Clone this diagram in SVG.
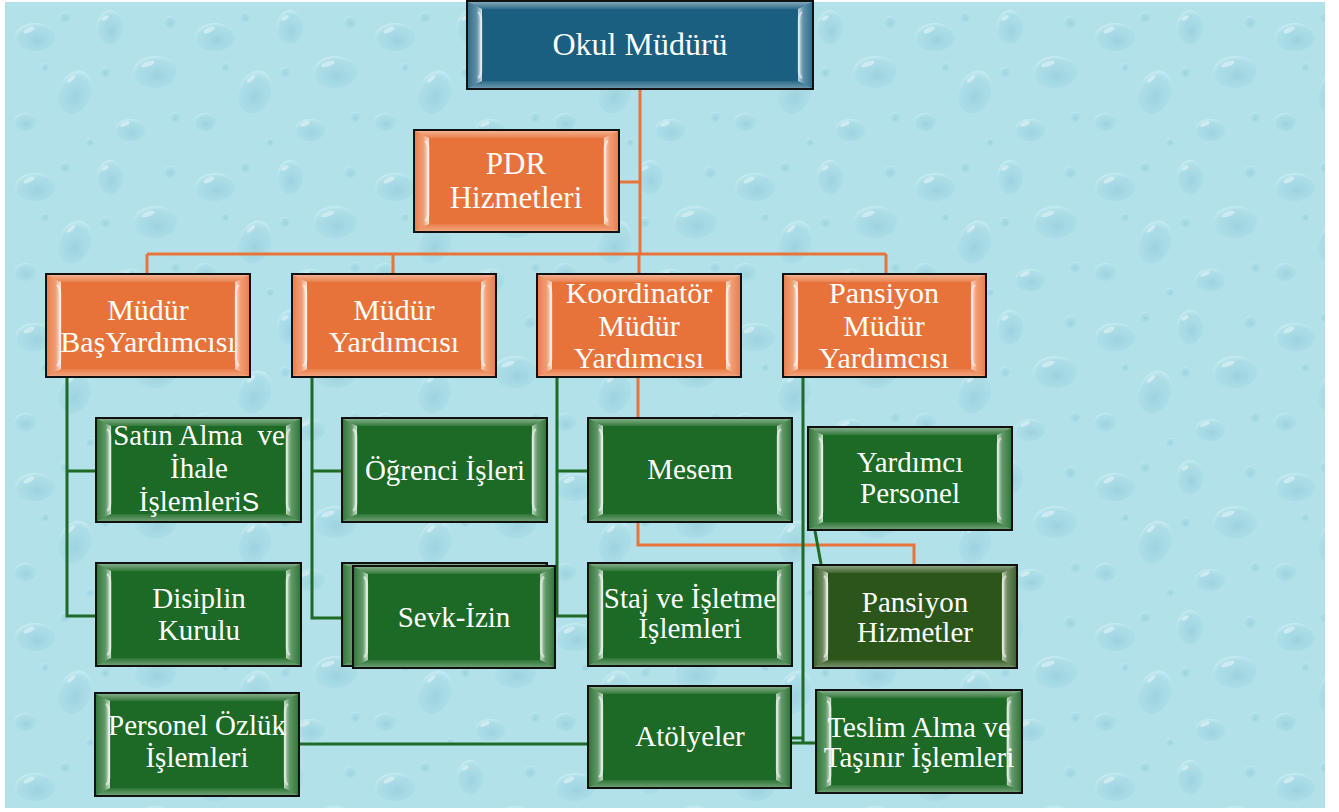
<svg xmlns="http://www.w3.org/2000/svg" xmlns:xlink="http://www.w3.org/1999/xlink" width="1339" height="812" viewBox="0 0 1339 812">
<style>
  .t { font-family: "Liberation Serif", "Times New Roman", serif; fill: #ffffff; text-anchor: middle; }
  .o { font-size: 30px; }
  .g { font-size: 29px; }
  .orange { color: #e8733a; }
  .green { color: #1c6a25; }
  .dkgreen { color: #2b5519; }
  .blue { color: #1a5f80; }
  .co { fill: none; stroke: #e8743b; stroke-width: 3; }
  .cg { fill: none; stroke: #1e6b25; stroke-width: 3; }
</style>
<defs>
  <radialGradient id="drop" cx="0.55" cy="0.62" r="0.6">
    <stop offset="0" stop-color="#7dbccc" stop-opacity="0.4"/>
    <stop offset="0.8" stop-color="#9ad3de" stop-opacity="0.22"/>
    <stop offset="1" stop-color="#e6fbff" stop-opacity="0.35"/>
  </radialGradient>
  <pattern id="drops" x="5" y="2" width="180" height="150" patternUnits="userSpaceOnUse">
    <ellipse cx="30" cy="35" rx="20" ry="14" fill="url(#drop)"/>
    <ellipse cx="24" cy="28" rx="6" ry="2.5" fill="#ffffff" opacity="0.4" transform="rotate(-25 24 28)"/>
    <ellipse cx="105" cy="25" rx="13" ry="17" fill="url(#drop)"/>
    <ellipse cx="100" cy="16" rx="4" ry="2" fill="#ffffff" opacity="0.4" transform="rotate(-30 100 16)"/>
    <ellipse cx="150" cy="70" rx="22" ry="16" fill="url(#drop)"/>
    <ellipse cx="143" cy="62" rx="7" ry="2.5" fill="#ffffff" opacity="0.4" transform="rotate(-20 143 62)"/>
    <ellipse cx="70" cy="90" rx="16" ry="22" fill="url(#drop)" transform="rotate(20 70 90)"/>
    <ellipse cx="66" cy="77" rx="5" ry="2" fill="#ffffff" opacity="0.4" transform="rotate(-40 66 77)"/>
    <ellipse cx="20" cy="120" rx="11" ry="9" fill="url(#drop)"/>
    <ellipse cx="125" cy="128" rx="15" ry="11" fill="url(#drop)"/>
    <ellipse cx="120" cy="122" rx="5" ry="2" fill="#ffffff" opacity="0.4" transform="rotate(-25 120 122)"/>
    <circle cx="60" cy="15" r="5" fill="url(#drop)"/>
    <circle cx="165" cy="20" r="6" fill="url(#drop)"/>
    <circle cx="100" cy="70" r="5" fill="url(#drop)"/>
    <circle cx="40" cy="65" r="4" fill="url(#drop)"/>
    <circle cx="170" cy="115" r="5" fill="url(#drop)"/>
    <circle cx="85" cy="140" r="4" fill="url(#drop)"/>
  </pattern>
  <linearGradient id="lb" x1="0" y1="0" x2="1" y2="0">
    <stop offset="0" stop-color="#ffffff" stop-opacity="0.1"/>
    <stop offset="0.6" stop-color="#ffffff" stop-opacity="0.3"/>
    <stop offset="1" stop-color="#ffffff" stop-opacity="0.8"/>
  </linearGradient>
  <linearGradient id="rb" x1="1" y1="0" x2="0" y2="0">
    <stop offset="0" stop-color="#ffffff" stop-opacity="0.1"/>
    <stop offset="0.6" stop-color="#ffffff" stop-opacity="0.3"/>
    <stop offset="1" stop-color="#ffffff" stop-opacity="0.75"/>
  </linearGradient>
  <linearGradient id="tb" x1="0" y1="0" x2="0" y2="1">
    <stop offset="0" stop-color="#ffffff" stop-opacity="0.45"/>
    <stop offset="1" stop-color="#ffffff" stop-opacity="0.1"/>
  </linearGradient>
  <linearGradient id="bb" x1="0" y1="1" x2="0" y2="0">
    <stop offset="0" stop-color="#ffffff" stop-opacity="0.35"/>
    <stop offset="1" stop-color="#ffffff" stop-opacity="0.08"/>
  </linearGradient>
  <symbol id="box" viewBox="0 0 206 105" preserveAspectRatio="none">
    <rect x="1" y="1" width="204" height="103" fill="currentColor" stroke="#111111" stroke-width="2"/>
    <polygon points="2,2 204,2 190,9 16,9" fill="url(#tb)"/>
    <polygon points="2,103 204,103 190,96 16,96" fill="url(#bb)"/>
    <polygon points="2,2 16,9 16,96 2,103" fill="url(#lb)"/>
    <polygon points="204,2 190,9 190,96 204,103" fill="url(#rb)"/>
    <path d="M12 12 Q15 14 15 20 V85 Q15 91 12 93" fill="none" stroke="#ffffff" stroke-opacity="0.55" stroke-width="2.5"/>
    <path d="M194 12 Q191 14 191 20 V85 Q191 91 194 93" fill="none" stroke="#ffffff" stroke-opacity="0.5" stroke-width="2.5"/>
  </symbol>
</defs>

<rect x="0" y="0" width="1339" height="812" fill="#ffffff"/>
<rect x="5" y="2" width="1320" height="806" fill="#b2e1ea"/>
<rect x="5" y="2" width="1320" height="806" fill="url(#drops)"/>

<g id="connectors">
  <path class="co" d="M640 89 V254 M620 182 H640 M147 254 H886 M147 254 V273 M393 254 V273 M639 254 V273 M886 254 V273"/>
  <path class="co" d="M638 378 V545 H914 V564"/>
  <path class="cg" d="M67 378 V616 H95 M67 471 H95"/>
  <path class="cg" d="M312 378 V618 H341 M312 471 H341"/>
  <path class="cg" d="M557 378 V616 H587 M557 471 H587"/>
  <path class="cg" d="M803 378 V743 M792 743 H815 M792 738 H803"/>
  <path class="cg" d="M300 744 H587"/>
  <path class="cg" d="M815 531 L821 564"/>
</g>

<g id="okul-muduru">
  <rect x="467" y="1" width="346" height="88" fill="#1a5f80" stroke="#111111" stroke-width="2"/>
  <polygon points="468,2 812,2 798,9 482,9" fill="url(#tb)"/>
  <polygon points="468,88 812,88 798,81 482,81" fill="url(#bb)"/>
  <polygon points="468,2 482,9 482,81 468,88" fill="url(#lb)"/>
  <polygon points="812,2 798,9 798,81 812,88" fill="url(#rb)"/>
  <path d="M478 12 Q481 14 481 20 V70 Q481 76 478 78 M802 12 Q799 14 799 20 V70 Q799 76 802 78" fill="none" stroke="#ffffff" stroke-opacity="0.5" stroke-width="2.5"/>
  <text class="t" x="640" y="55" font-size="32">Okul Müdürü</text>
</g>

<g id="pdr">
  <use xlink:href="#box" href="#box" class="orange" x="413" y="129" width="207" height="104"/>
  <text class="t" x="516" y="174" font-size="31">PDR</text>
  <text class="t" x="516" y="208" font-size="31">Hizmetleri</text>
</g>

<g id="mudur-bas-yardimcisi">
  <use href="#box" class="orange" x="45" y="273" width="206" height="105"/>
  <text class="t o" x="148" y="320">Müdür</text>
  <text class="t o" x="148" y="352">BaşYardımcısı</text>
</g>

<g id="mudur-yardimcisi">
  <use href="#box" class="orange" x="291" y="273" width="206" height="105"/>
  <text class="t o" x="394" y="320">Müdür</text>
  <text class="t o" x="394" y="352">Yardımcısı</text>
</g>

<g id="koordinator">
  <use href="#box" class="orange" x="536" y="273" width="206" height="105"/>
  <text class="t o" x="639" y="303">Koordinatör</text>
  <text class="t o" x="639" y="336">Müdür</text>
  <text class="t o" x="639" y="368">Yardımcısı</text>
</g>

<g id="pansiyon-mudur">
  <use href="#box" class="orange" x="782" y="273" width="205" height="105"/>
  <text class="t o" x="884" y="303">Pansiyon</text>
  <text class="t o" x="884" y="336">Müdür</text>
  <text class="t o" x="884" y="368">Yardımcısı</text>
</g>

<g id="satin-alma">
  <use href="#box" class="green" x="95" y="417" width="207" height="106"/>
  <text class="t g" x="199" y="445" style="white-space:pre">Satın Alma  ve</text>
  <text class="t g" x="199" y="478">İhale</text>
  <text class="t g" x="199" y="511">İşlemleri<tspan font-family="Liberation Sans, sans-serif" font-size="26">S</tspan></text>
</g>

<g id="disiplin">
  <use href="#box" class="green" x="95" y="562" width="207" height="105"/>
  <text class="t g" x="199" y="608">Disiplin</text>
  <text class="t g" x="199" y="640">Kurulu</text>
</g>

<g id="personel-ozluk">
  <use href="#box" class="green" x="94" y="692" width="206" height="105"/>
  <text class="t g" x="197" y="735">Personel Özlük</text>
  <text class="t g" x="197" y="767">İşlemleri</text>
</g>

<g id="ogrenci-isleri">
  <use href="#box" class="green" x="341" y="417" width="207" height="106"/>
  <text class="t g" x="445" y="480">Öğrenci İşleri</text>
</g>

<g id="sevk-izin">
  <use href="#box" class="green" x="341" y="562" width="207" height="105"/>
  <use href="#box" class="green" x="352" y="565" width="204" height="104"/>
  <text class="t g" x="454" y="627">Sevk-İzin</text>
</g>

<g id="mesem">
  <use href="#box" class="green" x="587" y="417" width="206" height="106"/>
  <text class="t g" x="690" y="479">Mesem</text>
</g>

<g id="staj">
  <use href="#box" class="green" x="587" y="562" width="206" height="105"/>
  <text class="t g" x="690" y="608">Staj ve İşletme</text>
  <text class="t g" x="690" y="638">İşlemleri</text>
</g>

<g id="atolyeler">
  <use href="#box" class="green" x="587" y="685" width="205" height="104"/>
  <text class="t g" x="690" y="746">Atölyeler</text>
</g>

<g id="yardimci-personel">
  <use href="#box" class="green" x="807" y="426" width="206" height="105"/>
  <text class="t g" x="910" y="472">Yardımcı</text>
  <text class="t g" x="910" y="503">Personel</text>
</g>

<g id="pansiyon-hizmetler">
  <use href="#box" class="dkgreen" x="812" y="564" width="206" height="105"/>
  <text class="t g" x="915" y="612">Pansiyon</text>
  <text class="t g" x="915" y="642">Hizmetler</text>
</g>

<g id="teslim-alma">
  <use href="#box" class="green" x="815" y="689" width="208" height="105"/>
  <text class="t g" x="919" y="737">Teslim Alma ve</text>
  <text class="t g" x="919" y="767">Taşınır İşlemleri</text>
</g>
</svg>
